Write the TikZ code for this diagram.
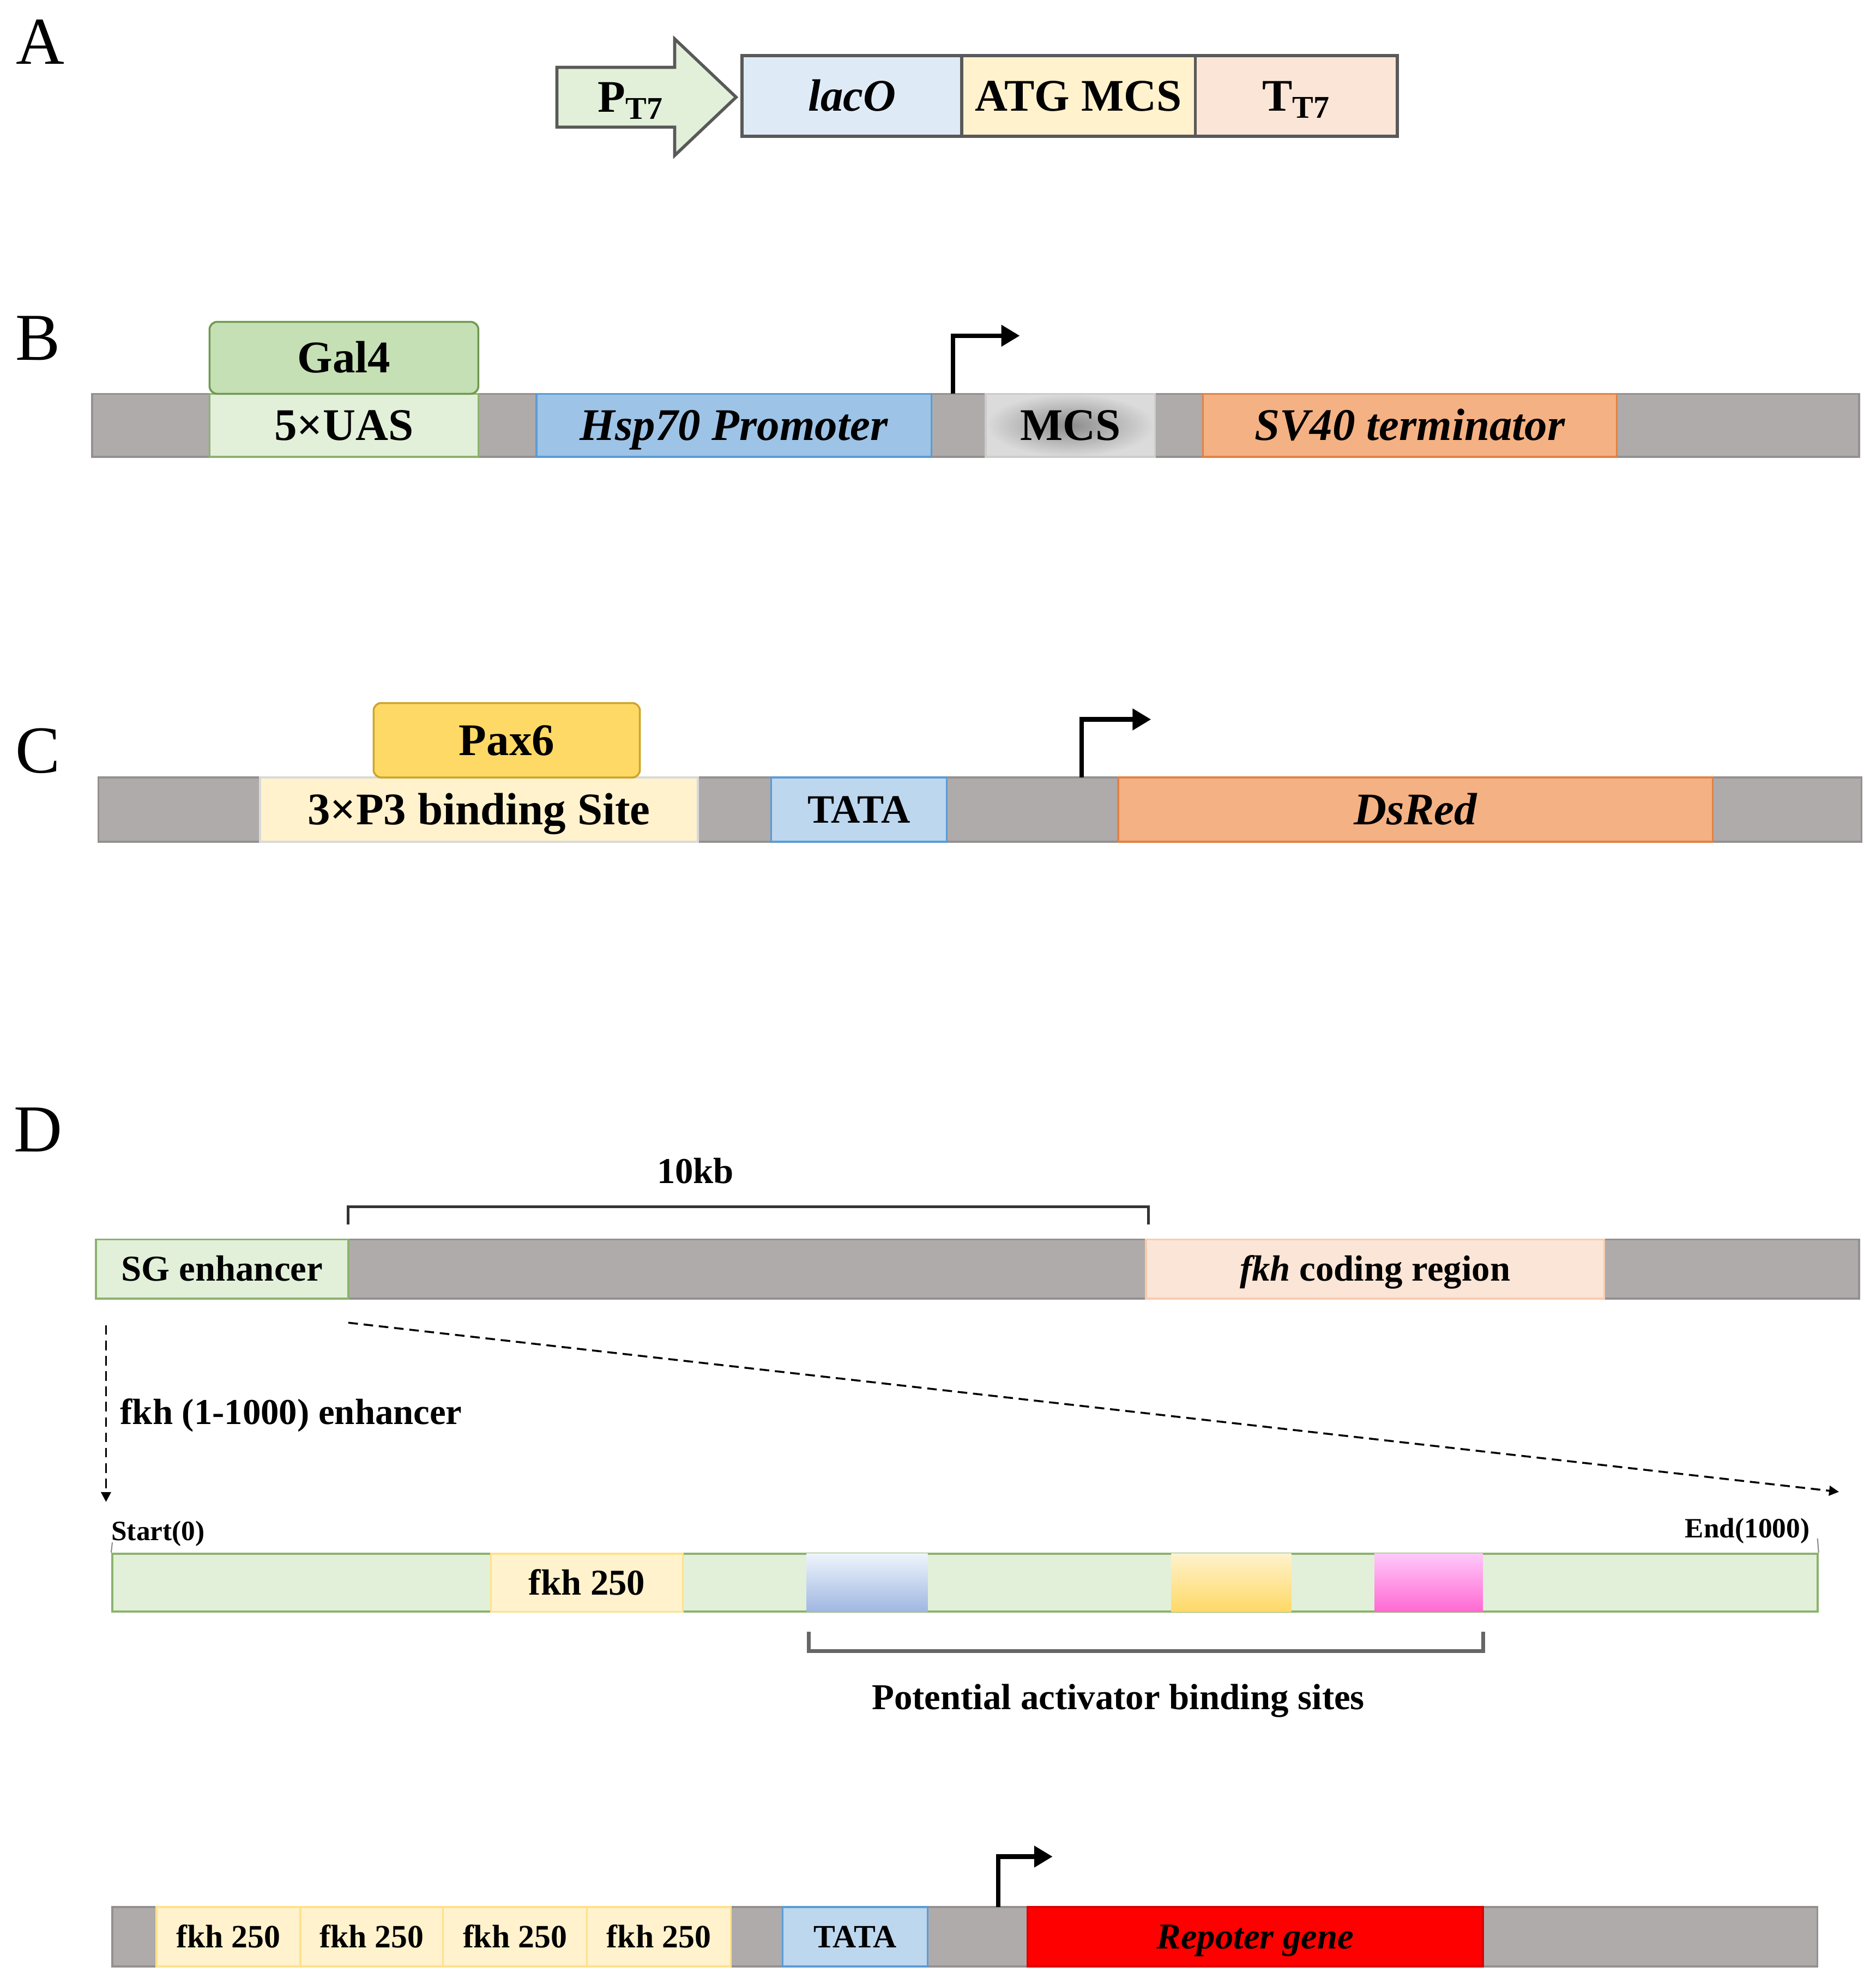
\documentclass[tikz,border=0pt]{standalone}
\usepackage{fontspec}
\setmainfont{Liberation Serif}
\usepackage{tikz}
\usetikzlibrary{arrows.meta,positioning,shapes.arrows,calc}
\definecolor{bargray}{RGB}{175,171,171}
\definecolor{baredge}{RGB}{148,144,144}
\definecolor{boxedge}{RGB}{89,89,89}
\definecolor{lightgreen}{RGB}{226,240,217}
\definecolor{greenedge}{RGB}{140,178,110}
\definecolor{galgreen}{RGB}{197,224,180}
\definecolor{galedge}{RGB}{112,152,80}
\definecolor{hspblue}{RGB}{157,195,230}
\definecolor{blueedge}{RGB}{91,155,213}
\definecolor{tatablue}{RGB}{189,215,238}
\definecolor{lightblue}{RGB}{222,235,247}
\definecolor{lightyellow}{RGB}{255,242,204}
\definecolor{yellowedge}{RGB}{255,225,140}
\definecolor{paxyellow}{RGB}{255,217,102}
\definecolor{paxedge}{RGB}{205,165,40}
\definecolor{peach}{RGB}{251,229,214}
\definecolor{peachedge}{RGB}{248,203,173}
\definecolor{orangefill}{RGB}{244,177,131}
\definecolor{orangeedge}{RGB}{225,130,70}
\definecolor{sitepink}{RGB}{255,105,210}
\definecolor{sitepinktop}{RGB}{255,200,250}
\definecolor{siteblue}{RGB}{160,183,225}
\definecolor{sitebluetop}{RGB}{238,244,252}
\newcommand{\pxu}{0.02315cm}
\newcommand{\bigfont}{\fontsize{23.6}{26}\selectfont\bfseries}
\newcommand{\medfont}{\fontsize{21}{24}\selectfont\bfseries}
\newcommand{\midfont}{\fontsize{19}{22}\selectfont\bfseries}
\newcommand{\smallfont}{\fontsize{17}{20}\selectfont\bfseries}
\newcommand{\tinyfont}{\fontsize{14.6}{17}\selectfont\bfseries}
\newcommand{\panelfont}{\fontsize{35}{40}\selectfont}
\tikzset{
  bigtext/.style={font=\bigfont, text height=16pt, text depth=0.4pt},
  medtext/.style={font=\medfont, text height=14.3pt, text depth=0.4pt},
  midtext/.style={font=\midfont, text height=12.9pt, text depth=0.4pt},
  smalltext/.style={font=\smallfont, text height=11.6pt, text depth=0.3pt},
  tinytext/.style={font=\tinyfont, text height=9.9pt, text depth=0.3pt},
  bar/.style={draw=baredge, line width=1pt, fill=bargray, inner sep=0pt},
  part/.style={draw, line width=1pt, inner sep=0pt, align=center, bigtext},
  greenpart/.style={part, fill=lightgreen, draw=greenedge},
  bluepart/.style={part, fill=hspblue, draw=blueedge},
  orangepart/.style={part, fill=orangefill, draw=orangeedge},
  yellowpart/.style={part, fill=lightyellow, draw=yellowedge},
  p3part/.style={part, fill=lightyellow, draw=black!15},
  tatapart/.style={part, fill=tatablue, draw=blueedge},
  peachpart/.style={part, fill=peach, draw=peachedge},
  factor/.style={part, rounded corners=4pt},
  vecpart/.style={part, draw=boxedge, line width=1.6pt},
  site/.style={inner sep=0pt, minimum height=46*\pxu},
  tss/.style={-{Triangle[length=3.4mm,width=3.8mm]}, line width=2.4pt},
  dashedarrow/.style={-{Triangle[length=1.8mm,width=1.8mm]}, line width=1pt,
    dash pattern=on 5pt off 3pt},
  bracket/.style={line width=1.4pt, draw=black!80},
  tick/.style={line width=0.6pt, draw=black!45},
  lbl/.style={inner sep=0pt, midtext},
  panel/.style={inner sep=0pt, font=\panelfont},
}
\begin{document}
\begin{tikzpicture}[x=\pxu, y=-\pxu]
  \useasboundingbox (0,0) rectangle (1486,1568);
  % A: expression vector
  \node[panel] (labA) at (32,33) {A};
  \node[vecpart, single arrow, fill=lightgreen, inner ysep=6.6pt, inner xsep=2pt,
    minimum height=142*\pxu, single arrow head extend=22.5*\pxu,
    single arrow tip angle=87, anchor=tail] (pt7) at (440,77) {P\textsubscript{T7}};
  \foreach \xa/\xb/\name/\col/\txt in {588/762/laco/lightblue/{\itshape lacO},
                                      762/947/atg/lightyellow/{ATG MCS},
                                      947/1107/tt7/peach/{T\textsubscript{T7}}}
    \node[vecpart, fill=\col, minimum width={(\xb-\xa)*\pxu}, minimum height=64*\pxu] (\name) at ({(\xa+\xb)/2},76) {\txt};
  % B: UAS construct
  \node[panel] (labB) at (30,268) {B};
  \node[bar, minimum width=1400*\pxu, minimum height=50*\pxu] (barB) at (773,337) {};
  \foreach \xa/\xb/\name/\sty/\txt in {166/379/uas/greenpart/{5×UAS},
                                      425/738/hsp/bluepart/{\itshape Hsp70 Promoter},
                                      953/1281/sv40/orangepart/{\itshape SV40 terminator}}
    \node[\sty, minimum width={(\xb-\xa)*\pxu}, minimum height=50*\pxu] (\name) at ({(\xa+\xb)/2},337) {\txt};
  \node[part, draw=black!20, inner color=black!45, outer color=black!14, minimum width=134*\pxu,
    minimum height=50*\pxu] (mcs) at (848,337) {MCS};
  \node[factor, fill=galgreen, draw=galedge, minimum width=213*\pxu, minimum height=57*\pxu] (gal4) at (272.5,283.5) {Gal4};
  \coordinate (tssB) at (755,312);
  \coordinate (tssBtip) at (808,266);
  \draw[tss] (tssB) |- (tssBtip);
  % C: 3xP3 construct
  \node[panel] (labC) at (30,595) {C};
  \node[bar, minimum width=1397*\pxu, minimum height=51*\pxu] (barC) at (776.5,641.5) {};
  \foreach \xa/\xb/\name/\sty/\txt in {206/553/p3/p3part/{3×P3 binding Site},
                                      886/1357/dsred/orangepart/{\itshape DsRed}}
    \node[\sty, minimum width={(\xb-\xa)*\pxu}, minimum height=51*\pxu] (\name) at ({(\xa+\xb)/2},641.5) {\txt};
  \node[tatapart, medtext, minimum width=139*\pxu, minimum height=51*\pxu] (tataC) at (680.5,641.5) {TATA};
  \node[factor, fill=paxyellow, draw=paxedge, minimum width=211*\pxu, minimum height=59*\pxu] (pax6) at (401.5,586.5) {Pax6};
  \coordinate (tssC) at (857,616);
  \coordinate (tssCtip) at (912,570);
  \draw[tss] (tssC) |- (tssCtip);
  % D: fkh locus and enhancer
  \node[panel] (labD) at (30,895) {D};
  \node[lbl] (tenkb) at (551,928) {10kb};
  \coordinate (kbL) at (276,970);
  \coordinate (kbR) at (910,970);
  \draw[bracket] (kbL) -- ++(0,-14) -| (kbR);
  \node[bar, minimum width=1397*\pxu, minimum height=47*\pxu] (barD) at (774.5,1005.5) {};
  \foreach \xa/\xb/\name/\sty/\txt in {76/276/sg/greenpart/{SG enhancer},
                                      908/1271/fkhcds/peachpart/{{\itshape fkh} coding region}}
    \node[\sty, midtext, minimum width={(\xb-\xa)*\pxu}, minimum height=47*\pxu] (\name) at ({(\xa+\xb)/2},1005.5) {\txt};
  \coordinate (sgdrop) at (84,1050);
  \coordinate (enhstart) at (84,1190);
  \draw[dashedarrow] (sgdrop) -- (enhstart);
  \node[lbl, anchor=west] (enhlbl) at (95,1119) {fkh (1-1000) enhancer};
  \coordinate (zoomA) at (276,1048);
  \coordinate (zoomB) at (1457,1182);
  \draw[dashedarrow] (zoomA) -- (zoomB);
  \node[greenpart, line width=1.2pt, minimum width=1351*\pxu, minimum height=46*\pxu] (enh) at (764.5,1254) {};
  \node[yellowpart, midtext, minimum width=152*\pxu, minimum height=46*\pxu] (f250) at (465,1254) {fkh 250};
  \node[site, top color=sitebluetop, bottom color=siteblue, minimum width=96*\pxu] (siteA) at (687,1254) {};
  \node[site, top color=lightyellow, bottom color=paxyellow, minimum width=95*\pxu] (siteB) at (975.5,1254) {};
  \node[site, top color=sitepinktop, bottom color=sitepink, minimum width=86*\pxu] (siteC) at (1132,1254) {};
  \coordinate (startTick) at (89,1222);
  \coordinate (endTick) at (1440,1219);
  \draw[tick] (startTick) -- (enh.north west);
  \draw[tick] (endTick) -- (enh.north east);
  \node[lbl, tinytext, anchor=west] (startlbl) at (88,1213) {Start(0)};
  \node[lbl, tinytext, anchor=east] (endlbl) at (1434,1211) {End(1000)};
  \coordinate (pabL) at (641,1293);
  \coordinate (pabR) at (1175,1293);
  \draw[bracket, draw=black!60, line width=2pt] (pabL) -- ++(0,15) -| (pabR);
  \node[lbl] (pablbl) at (886,1345) {Potential activator binding sites};
  % reporter construct
  \node[bar, minimum width=1351*\pxu, minimum height=47*\pxu] (barE) at (764.5,1534.5) {};
  \foreach \xa/\xb/\name in {124/238/rpt1, 238/351/rpt2, 351/465/rpt3, 465/579/rpt4}
    \node[yellowpart, smalltext, minimum width={(\xb-\xa)*\pxu}, minimum height=47*\pxu] (\name) at ({(\xa+\xb)/2},1534.5) {fkh 250};
  \node[tatapart, smalltext, minimum width=115*\pxu, minimum height=47*\pxu] (tataE) at (677.5,1534.5) {TATA};
  \node[part, fill=red, draw=red!85!black, midtext, minimum width=361*\pxu, minimum height=47*\pxu] (rep) at (994.5,1534.5) {\itshape Repoter gene};
  \coordinate (tssE) at (791,1511);
  \coordinate (tssEtip) at (834,1471);
  \draw[tss] (tssE) |- (tssEtip);
\end{tikzpicture}
\end{document}
